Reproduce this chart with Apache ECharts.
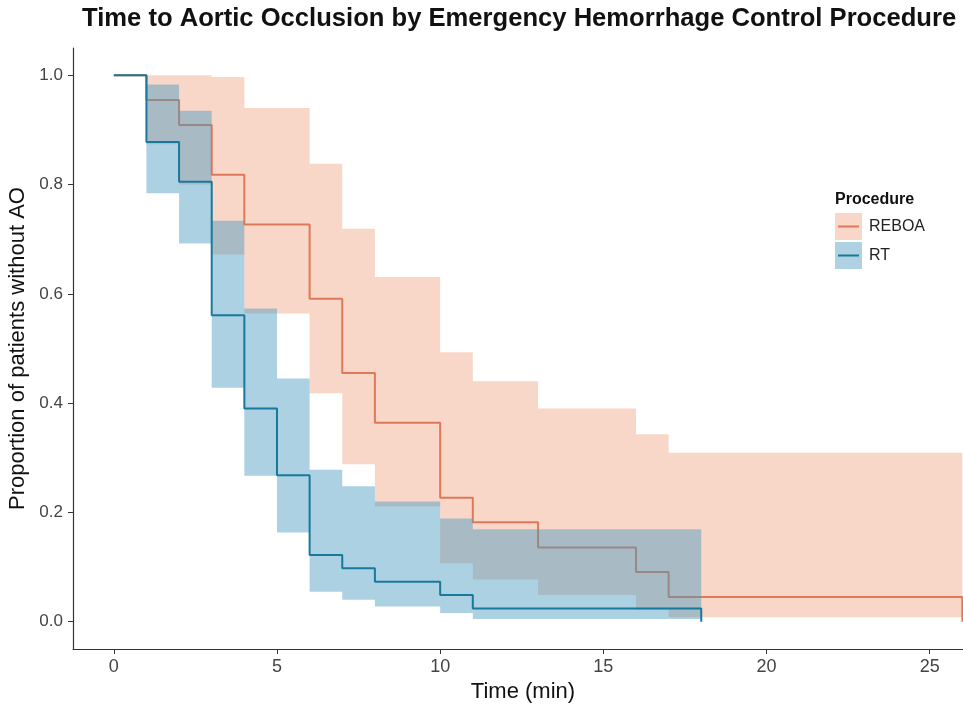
<!DOCTYPE html>
<html><head><meta charset="utf-8">
<script src="https://cdn.jsdelivr.net/npm/echarts@6/dist/echarts.min.js"></script>
<style>html,body{margin:0;padding:0;background:#fff}#c{width:963px;height:705px}</style>
</head><body><div id="c"></div>
<script>
const chartTitle = 'Time to Aortic Occlusion by Emergency Hemorrhage Control Procedure';
const xTicks = [0, 5, 10, 15, 20, 25];
const yTicks = [0, 0.2, 0.4, 0.6, 0.8, 1.0];

// REBOA Kaplan-Meier estimate
const reboaTime = [0, 1, 2, 3, 4, 6, 7, 8, 10, 11, 13, 16, 17, 26];
const reboaSurv = [1, 0.955, 0.909, 0.818, 0.727, 0.591, 0.455, 0.364, 0.227, 0.182, 0.136, 0.091, 0.045, 0];
const reboaCiTime = [1, 2, 3, 4, 6, 7, 8, 10, 11, 13, 16, 17, 26];
const reboaLower = [0.874, 0.80, 0.672, 0.564, 0.418, 0.288, 0.211, 0.107, 0.077, 0.049, 0.022, 0.008, 0.008];
const reboaUpper = [1.0, 1.0, 0.997, 0.94, 0.838, 0.719, 0.631, 0.493, 0.440, 0.390, 0.343, 0.309, 0.309];

// RT Kaplan-Meier estimate
const rtTime = [0, 1, 2, 3, 4, 5, 6, 7, 8, 10, 11, 18];
const rtSurv = [1, 0.878, 0.805, 0.561, 0.390, 0.268, 0.122, 0.098, 0.073, 0.049, 0.024, 0];
const rtCiTime = [1, 2, 3, 4, 5, 6, 7, 8, 10, 11, 18];
const rtLower = [0.784, 0.692, 0.428, 0.267, 0.163, 0.055, 0.040, 0.028, 0.016, 0.005, 0.005];
const rtUpper = [0.983, 0.935, 0.734, 0.573, 0.445, 0.278, 0.248, 0.220, 0.189, 0.169, 0.169];

const FONT = 'Liberation Sans, Arial, sans-serif';
const ORANGE = '#DF7859';
const BLUE = '#17799C';
const PINK_FILL = '#F8D7C9';
const BLUE_FILL = 'rgba(72,152,192,0.45)';

function bandSeries(name, times, lo, hi, fill, z) {
  const data = times.map((t, i) => [t, lo[i], hi[i]]);
  return {
    type: 'custom', name: name, z: z, silent: true, data: data,
    encode: { x: 0, y: [1, 2] },
    renderItem: function (params, api) {
      if (params.dataIndex !== 0) return;
      const top = [], bot = [];
      for (let i = 0; i < data.length - 1; i++) {
        top.push(api.coord([data[i][0], data[i][2]]));
        top.push(api.coord([data[i + 1][0], data[i][2]]));
        bot.push(api.coord([data[i][0], data[i][1]]));
        bot.push(api.coord([data[i + 1][0], data[i][1]]));
      }
      return { type: 'polygon', shape: { points: top.concat(bot.reverse()) }, style: { fill: fill } };
    }
  };
}

function lineSeries(name, times, surv, color, z) {
  return {
    type: 'line', name: name, z: z, step: 'end', showSymbol: false, silent: true,
    data: times.map((t, i) => [t, surv[i]]),
    lineStyle: { color: color, width: 2 }, itemStyle: { color: color }
  };
}

const chart = echarts.init(document.getElementById('c'), null, { renderer: 'canvas' });
chart.setOption({
  animation: false,
  backgroundColor: '#fff',
  title: [
    { text: chartTitle, left: 82, top: 6, padding: 0,
      textStyle: { fontFamily: FONT, fontSize: 25.6, fontWeight: 'bold', color: '#111' } },
    { text: 'Procedure', left: 835, top: 192, padding: 0,
      textStyle: { fontFamily: FONT, fontSize: 16, fontWeight: 'bold', color: '#111' } }
  ],
  grid: { left: 73, top: 48, right: 0, height: 601, containLabel: false, outerBoundsMode: 'none' },
  xAxis: {
    type: 'value', min: -1.25, max: 26.02,
    name: 'Time (min)', nameLocation: 'middle', nameGap: 29,
    nameTextStyle: { fontFamily: FONT, fontSize: 22, color: '#111', padding: [0, 0, 0, 10] },
    axisLine: { show: true, onZero: false, lineStyle: { color: '#333', width: 1.2 } },
    axisTick: { show: true, length: 5, customValues: xTicks, lineStyle: { color: '#333' } },
    axisLabel: { customValues: xTicks, margin: 9, fontFamily: FONT, fontSize: 18, color: '#444',
      formatter: v => String(v) },
    splitLine: { show: false }
  },
  yAxis: {
    type: 'value', min: -0.05, max: 1.05,
    name: 'Proportion of patients without AO', nameLocation: 'middle', nameGap: 36,
    nameTextStyle: { fontFamily: FONT, fontSize: 22, color: '#111' },
    axisLine: { show: true, onZero: false, lineStyle: { color: '#333', width: 1.2 } },
    axisTick: { show: true, length: 5, customValues: yTicks, lineStyle: { color: '#333' } },
    axisLabel: { customValues: yTicks, margin: 10, fontFamily: FONT, fontSize: 17, color: '#444',
      formatter: v => v.toFixed(1) },
    splitLine: { show: false }
  },
  legend: {
    orient: 'vertical', left: 835, top: 213, padding: 0,
    itemWidth: 27, itemHeight: 27, itemGap: 2,
    selectedMode: false,
    textStyle: { fontFamily: FONT, fontSize: 16, color: '#222', padding: [0, 0, 0, 2] },
    data: [
      { name: 'REBOA', icon: 'rect', itemStyle: { color: PINK_FILL } },
      { name: 'RT', icon: 'rect', itemStyle: { color: '#AED2E1' } }
    ]
  },
  graphic: [
    { type: 'line', shape: { x1: 838, y1: 226.5, x2: 859, y2: 226.5 }, style: { stroke: ORANGE, lineWidth: 2 }, z: 100 },
    { type: 'line', shape: { x1: 838, y1: 255.5, x2: 859, y2: 255.5 }, style: { stroke: BLUE, lineWidth: 2 }, z: 100 }
  ],
  series: [
    bandSeries('REBOA', reboaCiTime, reboaLower, reboaUpper, PINK_FILL, 1),
    lineSeries('REBOA', reboaTime, reboaSurv, ORANGE, 2),
    bandSeries('RT', rtCiTime, rtLower, rtUpper, BLUE_FILL, 3),
    lineSeries('RT', rtTime, rtSurv, BLUE, 4)
  ]
});
</script>
</body></html>
